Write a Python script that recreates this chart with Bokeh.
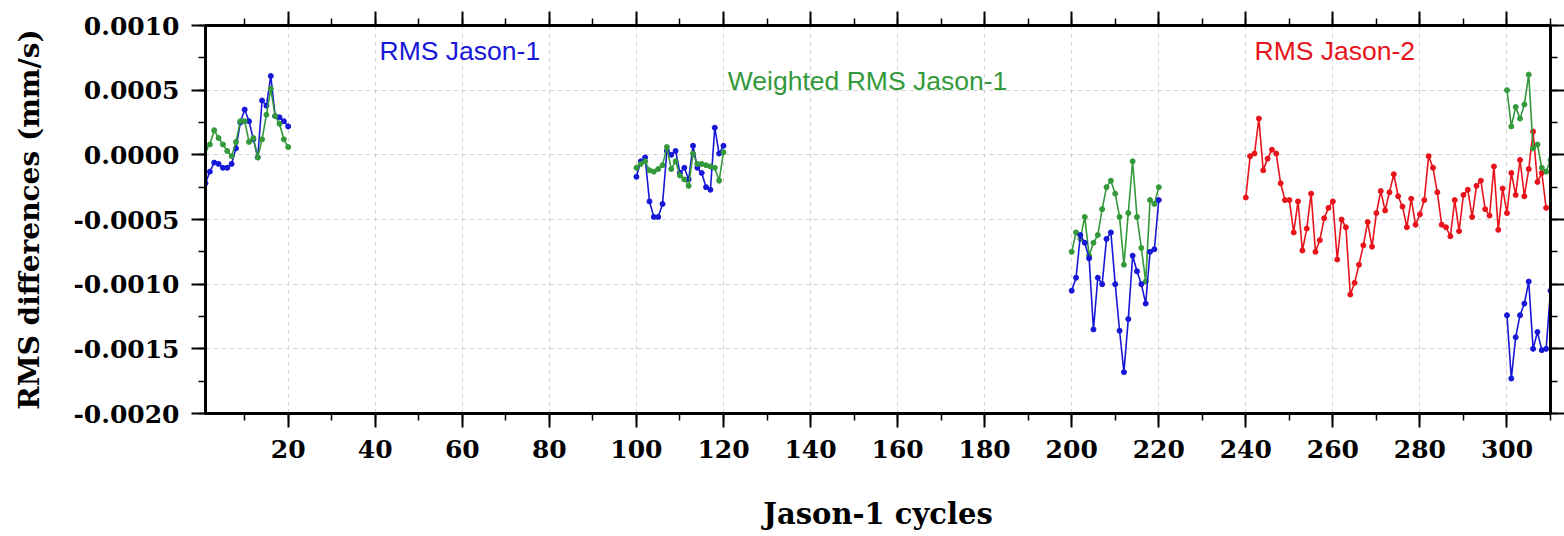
from bokeh.plotting import figure
from bokeh.models import (LinearAxis, Range1d, SingleIntervalTicker, PrintfTickFormatter, Label)
from bokeh.embed import file_html
from bokeh.resources import INLINE

# ---- data ----
j1_cycles_a = [1, 2, 3, 4, 5, 6, 7, 8, 9, 10, 11, 12, 13, 14, 15, 16, 17, 18, 19, 20]
j1_rms_a = [-0.00022, -0.00013, -0.00006, -0.00007, -0.0001, -0.0001, -0.00007, 0.00005, 0.00025, 0.00035,
            0.00026, 0.00012, -0.00002, 0.00042, 0.00038, 0.00061, 0.0003, 0.00029, 0.00026, 0.00022]
j1_wrms_a = [0.00005, 0.00008, 0.00019, 0.00013, 0.00008, 0.00003, -0.00001, 0.0001, 0.00026, 0.00026,
             0.0001, 0.00013, -0.00002, 0.00012, 0.00031, 0.00051, 0.0003, 0.00024, 0.00012, 0.00006]

j1_cycles_b = [100, 101, 102, 103, 104, 105, 106, 107, 108, 109, 110, 111, 112, 113, 114, 115, 116, 117, 118, 119, 120]
j1_rms_b = [-0.00017, -0.00005, -0.00002, -0.00036, -0.00048, -0.00048, -0.00038, 0.00003, 0.0, 0.00003,
            -0.00014, -0.0001, -0.00019, 0.00007, -0.0001, -0.00014, -0.00025, -0.00027, 0.00021, 0.00001, 0.00007]
j1_wrms_b = [-0.0001, -0.00007, -0.00005, -0.00012, -0.00013, -0.00011, -0.00008, 0.00006, -0.00011, -0.00005,
             -0.00016, -0.00019, -0.00024, 0.00001, -0.00007, -0.00007, -0.00008, -0.00009, -0.0001, -0.0002, 0.00002]

j1_cycles_c = [200, 201, 202, 203, 204, 205, 206, 207, 208, 209, 210, 211, 212, 213, 214, 215, 216, 217, 218, 219, 220]
j1_rms_c = [-0.00105, -0.00095, -0.00062, -0.00068, -0.0008, -0.00135, -0.00095, -0.001, -0.00065, -0.0006,
            -0.001, -0.00136, -0.00168, -0.00127, -0.00078, -0.0009, -0.001, -0.00115, -0.00075, -0.00073, -0.00035]
j1_wrms_c = [-0.00075, -0.0006, -0.00065, -0.00048, -0.00078, -0.00068, -0.00062, -0.00042, -0.00025, -0.0002,
             -0.0003, -0.00048, -0.00085, -0.00045, -0.00005, -0.00048, -0.00072, -0.00098, -0.00035, -0.00038, -0.00025]

j1_cycles_d = [300, 301, 302, 303, 304, 305, 306, 307, 308, 309, 310]
j1_rms_d = [-0.00124, -0.00173, -0.00141, -0.00124, -0.00115, -0.00098, -0.0015, -0.00137, -0.00151, -0.0015, -0.00105]
j1_wrms_d = [0.0005, 0.00022, 0.00037, 0.00028, 0.00039, 0.00062, 0.00005, 0.00008, -0.0001, -0.00013, -0.00004]

j2_cycles = [240, 241, 242, 243, 244, 245, 246, 247, 248, 249, 250, 251, 252, 253, 254, 255, 256, 257, 258, 259,
             260, 261, 262, 263, 264, 265, 266, 267, 268, 269, 270, 271, 272, 273, 274, 275, 276, 277, 278, 279,
             280, 281, 282, 283, 284, 285, 286, 287, 288, 289, 290, 291, 292, 293, 294, 295, 296, 297, 298, 299,
             300, 301, 302, 303, 304, 305, 306, 307, 308, 309]
j2_rms = [-0.00033, -0.00001, 0.00001, 0.00028, -0.00012, -0.00003, 0.00004, 0.00001, -0.00022, -0.00035,
          -0.00035, -0.0006, -0.00036, -0.00074, -0.00057, -0.0003, -0.00075, -0.00066, -0.00049, -0.00041,
          -0.00036, -0.00081, -0.0005, -0.00056, -0.00108, -0.00099, -0.00085, -0.0007, -0.00052, -0.00071,
          -0.00045, -0.00028, -0.00043, -0.00029, -0.00015, -0.00032, -0.0004, -0.00056, -0.00034, -0.00054,
          -0.00046, -0.00035, -0.00001, -0.0001, -0.00029, -0.00054, -0.00056, -0.00063, -0.00035, -0.00059,
          -0.00031, -0.00027, -0.00048, -0.00024, -0.0002, -0.00042, -0.00047, -0.00009, -0.00058, -0.00026,
          -0.00045, -0.00014, -0.00031, -0.00004, -0.00032, -0.00011, 0.00018, -0.00021, -0.00014, -0.00041]

x_ticks = [20, 40, 60, 80, 100, 120, 140, 160, 180, 200, 220, 240, 260, 280, 300]
y_ticks = [-0.0020, -0.0015, -0.0010, -0.0005, 0.0, 0.0005, 0.0010]

series_labels = ["RMS Jason-1", "Weighted RMS Jason-1", "RMS Jason-2"]

BLUE = "#1717d8"
GREEN = "#33993a"
RED = "#e8141c"

p = figure(width=1564, height=536, output_backend="svg", toolbar_location=None,
           x_range=Range1d(1, 310), y_range=Range1d(-0.0020, 0.0010),
           min_border_left=205, min_border_right=4, min_border_top=25, min_border_bottom=123,
           x_axis_location=None, y_axis_location=None)
p.background_fill_color = "white"
p.border_fill_color = "white"
p.outline_line_color = "black"
p.outline_line_width = 3

serif = "DejaVu Serif"


def make_axis(kind, show_labels):
    ax = LinearAxis()
    if kind == "x":
        ax.ticker = SingleIntervalTicker(interval=20, num_minor_ticks=2)
    else:
        ax.ticker = SingleIntervalTicker(interval=0.0005, num_minor_ticks=2)
        ax.formatter = PrintfTickFormatter(format="%.4f")
    ax.axis_line_width = 3
    ax.axis_line_color = "black"
    ax.major_tick_line_width = 2
    ax.minor_tick_line_width = 1.5
    ax.major_tick_out = 14
    ax.major_tick_in = 0
    ax.minor_tick_out = 7
    ax.minor_tick_in = 0
    ax.major_label_text_font = serif
    ax.major_label_text_font_style = "bold"
    ax.major_label_text_font_size = "25px"
    ax.major_label_text_color = "black"
    ax.major_label_standoff = 12
    ax.axis_label_text_color = "black"
    if not show_labels:
        ax.major_label_text_font_size = "0px"
        ax.major_label_text_alpha = 0
    return ax


bottom = make_axis("x", True)
bottom.axis_label = "Jason-1 cycles"
bottom.axis_label_text_font = serif
bottom.axis_label_text_font_style = "bold"
bottom.axis_label_text_font_size = "29px"
bottom.axis_label_standoff = 36
p.add_layout(bottom, "below")

left = make_axis("y", True)
left.axis_label = "RMS differences (mm/s)"
left.axis_label_text_font = serif
left.axis_label_text_font_style = "bold"
left.axis_label_text_font_size = "28px"
left.axis_label_standoff = 24
p.add_layout(left, "left")

top = make_axis("x", False)
p.add_layout(top, "above")
right = make_axis("y", False)
p.add_layout(right, "right")

p.xgrid.ticker = SingleIntervalTicker(interval=20)
p.ygrid.ticker = SingleIntervalTicker(interval=0.0005)
for g in (p.xgrid, p.ygrid):
    g.grid_line_color = "#cfcfcf"
    g.grid_line_dash = "4 4"
    g.grid_line_width = 1

segments = [
    (j1_cycles_a, j1_rms_a, BLUE), (j1_cycles_a, j1_wrms_a, GREEN),
    (j1_cycles_b, j1_rms_b, BLUE), (j1_cycles_b, j1_wrms_b, GREEN),
    (j1_cycles_c, j1_wrms_c, GREEN), (j1_cycles_c, j1_rms_c, BLUE),
    (j2_cycles, j2_rms, RED),
    (j1_cycles_d, j1_rms_d, BLUE), (j1_cycles_d, j1_wrms_d, GREEN),
]
for xs, ys, c in segments:
    p.line(xs, ys, line_color=c, line_width=1.6)
    p.scatter(xs, ys, size=5, fill_color=c, line_color=c, marker="circle")

label_specs = [(41, 0.00080, BLUE), (121, 0.00057, GREEN), (242, 0.00080, RED)]
for txt, (lx, ly, c) in zip(series_labels, label_specs):
    p.add_layout(Label(x=lx, y=ly, text=txt, text_color=c, text_font="Liberation Sans",
                       text_font_size="26.5px", text_baseline="middle", text_align="left"))

open("out.html", "w").write(file_html(p, INLINE))
